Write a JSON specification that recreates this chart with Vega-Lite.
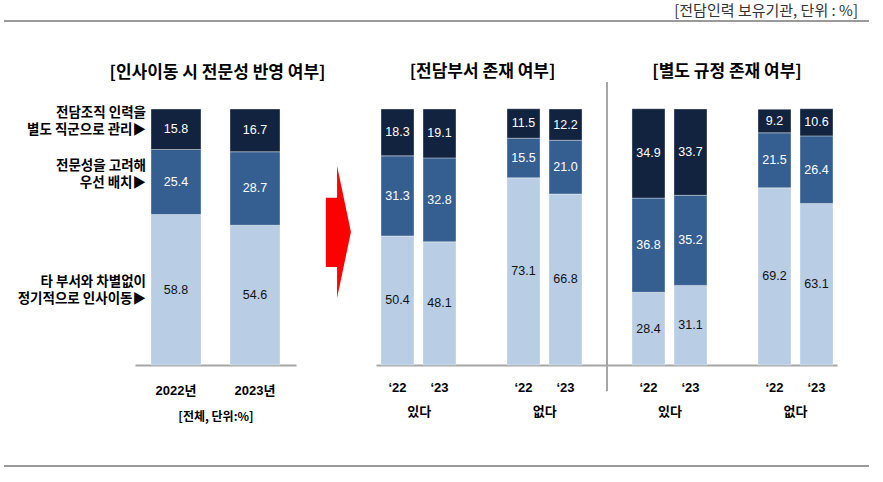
{
  "$schema": "https://vega.github.io/schema/vega-lite/v6.json",
  "padding": {"left": 3, "top": 0, "right": 5, "bottom": 5},
  "background": "#ffffff",
  "bounds": "flush",
  "spacing": 88,
  "resolve": {"scale": {"x": "independent", "y": "independent"}, "axis": {"x": "independent", "y": "independent"}},
  "config": {
    "view": {"stroke": null},
    "font": "Noto Sans CJK KR",
    "axis": {"grid": false},
    "title": {"font": "Noto Sans CJK KR", "fontWeight": "bold", "fontSize": 17, "color": "#000000"}
  },
  "datasets": {
    "bars": [
      {"panel": "A", "group": "", "year": "2022년", "cat": 1, "value": 58.8},
      {"panel": "A", "group": "", "year": "2022년", "cat": 2, "value": 25.4},
      {"panel": "A", "group": "", "year": "2022년", "cat": 3, "value": 15.8},
      {"panel": "A", "group": "", "year": "2023년", "cat": 1, "value": 54.6},
      {"panel": "A", "group": "", "year": "2023년", "cat": 2, "value": 28.7},
      {"panel": "A", "group": "", "year": "2023년", "cat": 3, "value": 16.7},
      {"panel": "B", "group": "있다", "year": "‘22", "cat": 1, "value": 50.4},
      {"panel": "B", "group": "있다", "year": "‘22", "cat": 2, "value": 31.3},
      {"panel": "B", "group": "있다", "year": "‘22", "cat": 3, "value": 18.3},
      {"panel": "B", "group": "있다", "year": "‘23", "cat": 1, "value": 48.1},
      {"panel": "B", "group": "있다", "year": "‘23", "cat": 2, "value": 32.8},
      {"panel": "B", "group": "있다", "year": "‘23", "cat": 3, "value": 19.1},
      {"panel": "B", "group": "없다", "year": "‘22", "cat": 1, "value": 73.1},
      {"panel": "B", "group": "없다", "year": "‘22", "cat": 2, "value": 15.5},
      {"panel": "B", "group": "없다", "year": "‘22", "cat": 3, "value": 11.5},
      {"panel": "B", "group": "없다", "year": "‘23", "cat": 1, "value": 66.8},
      {"panel": "B", "group": "없다", "year": "‘23", "cat": 2, "value": 21.0},
      {"panel": "B", "group": "없다", "year": "‘23", "cat": 3, "value": 12.2},
      {"panel": "C", "group": "있다", "year": "‘22", "cat": 1, "value": 28.4},
      {"panel": "C", "group": "있다", "year": "‘22", "cat": 2, "value": 36.8},
      {"panel": "C", "group": "있다", "year": "‘22", "cat": 3, "value": 34.9},
      {"panel": "C", "group": "있다", "year": "‘23", "cat": 1, "value": 31.1},
      {"panel": "C", "group": "있다", "year": "‘23", "cat": 2, "value": 35.2},
      {"panel": "C", "group": "있다", "year": "‘23", "cat": 3, "value": 33.7},
      {"panel": "C", "group": "없다", "year": "‘22", "cat": 1, "value": 69.2},
      {"panel": "C", "group": "없다", "year": "‘22", "cat": 2, "value": 21.5},
      {"panel": "C", "group": "없다", "year": "‘22", "cat": 3, "value": 9.2},
      {"panel": "C", "group": "없다", "year": "‘23", "cat": 1, "value": 63.1},
      {"panel": "C", "group": "없다", "year": "‘23", "cat": 2, "value": 26.4},
      {"panel": "C", "group": "없다", "year": "‘23", "cat": 3, "value": 10.6}
    ],
    "cats": [
      {"cat": 1, "label": "타 부서와 차별없이\u3000\n정기적으로 인사이동▶"},
      {"cat": 2, "label": "전문성을 고려해\u3000\n우선 배치▶"},
      {"cat": 3, "label": "전담조직 인력을\u3000\u3000\n별도 직군으로 관리▶"}
    ]
  },
  "vconcat": [
    {
      "width": 865,
      "height": 21,
      "data": {"values": [{"note": "[전담인력 보유기관, 단위 : %]"}]},
      "layer": [
        {
          "mark": {"type": "rect", "color": "#9A9A9A"},
          "encoding": {
            "x": {"datum": 0, "type": "quantitative", "scale": {"domain": [0, 1]}, "axis": null},
            "x2": {"datum": 1},
            "y": {"datum": 0.045, "type": "quantitative", "scale": {"domain": [0, 1]}, "axis": null},
            "y2": {"datum": -0.05}
          }
        },
        {
          "mark": {"type": "text", "align": "right", "baseline": "middle", "dx": -11, "fontSize": 15, "font": "Noto Sans CJK KR", "color": "#333333"},
          "encoding": {
            "x": {"datum": 1, "type": "quantitative"},
            "y": {"datum": 0.5, "type": "quantitative"},
            "text": {"field": "note"}
          }
        }
      ]
    },
    {
      "bounds": "flush",
      "spacing": 0,
      "hconcat": [
        {
          "width": 131,
          "height": 256,
          "data": {"name": "bars"},
          "transform": [
            {"filter": "datum.panel == 'A'"},
            {"stack": "value", "groupby": ["year"], "sort": [{"field": "cat", "order": "ascending"}], "as": ["y0", "y1"]},
            {"filter": "datum.year == '2022년'"},
            {"calculate": "(datum.y0 + datum.y1) / 2", "as": "mid"},
            {"lookup": "cat", "from": {"data": {"name": "cats"}, "key": "cat", "fields": ["label"]}}
          ],
          "layer": [
            {
              "transform": [{"filter": "datum.cat > 1"}],
              "mark": {"type": "text", "align": "right", "baseline": "middle", "dx": 11, "dy": -16, "lineBreak": "\n", "lineHeight": 17, "fontWeight": "bold", "fontSize": 13.5, "font": "Noto Sans CJK KR", "color": "#000000"},
              "encoding": {
                "x": {"datum": 1, "type": "quantitative", "scale": {"domain": [0, 1]}, "axis": null},
                "y": {"field": "mid", "type": "quantitative", "scale": {"domain": [0, 100]}, "axis": null},
                "text": {"field": "label"}
              }
            },
            {
              "transform": [{"filter": "datum.cat == 1"}],
              "mark": {"type": "text", "align": "right", "baseline": "middle", "dx": 11, "dy": -8, "lineBreak": "\n", "lineHeight": 17, "fontWeight": "bold", "fontSize": 13.5, "font": "Noto Sans CJK KR", "color": "#000000"},
              "encoding": {
                "x": {"datum": 1, "type": "quantitative", "scale": {"domain": [0, 1]}, "axis": null},
                "y": {"field": "mid", "type": "quantitative", "scale": {"domain": [0, 100]}, "axis": null},
                "text": {"field": "label"}
              }
            }
          ]
        },
        {
          "width": 161,
          "height": 256,
          "title": {"text": "[인사이동 시 전문성 반영 여부]", "offset": 27, "dx": 2},
          "data": {"name": "bars"},
          "transform": [
            {"filter": "datum.panel == 'A'"},
            {"stack": "value", "groupby": ["year"], "sort": [{"field": "cat", "order": "ascending"}], "as": ["y0", "y1"]},
            {"calculate": "(datum.y0 + datum.y1) / 2", "as": "mid"}
          ],
          "layer": [
            {
              "mark": {"type": "bar", "stroke": "#ffffff", "strokeOpacity": 0.35, "strokeWidth": 1},
              "encoding": {
                "x": {"field": "year", "type": "nominal", "scale": {"domain": ["2022년", "2023년"], "paddingInner": 0.367, "paddingOuter": 0.2025},
                      "axis": {"title": "[전체, 단위:%]", "titleFontSize": 12, "titleFontWeight": "bold", "titleFont": "Noto Sans CJK KR", "titleColor": "#000000", "titlePadding": 14,
                               "labelAngle": 0, "labelFontSize": 13, "labelFontWeight": "bold", "labelFont": "Liberation Sans, Noto Sans CJK KR", "labelColor": "#000000", "labelPadding": 19,
                               "ticks": false, "tickSize": 0, "domainColor": "#A6A6A6", "domainWidth": 2}},
                "y": {"field": "y1", "type": "quantitative", "scale": {"domain": [0, 100]}, "axis": null},
                "y2": {"field": "y0"},
                "color": {"field": "cat", "type": "nominal", "scale": {"domain": [1, 2, 3], "range": ["#B9CDE5", "#365F91", "#12233F"]}, "legend": null}
              }
            },
            {
              "mark": {"type": "text", "font": "Liberation Sans", "fontSize": 12.5, "baseline": "middle", "align": "center"},
              "encoding": {
                "x": {"field": "year", "type": "nominal"},
                "y": {"field": "mid", "type": "quantitative"},
                "text": {"field": "value", "type": "quantitative", "format": ".1f"},
                "color": {"condition": {"test": "datum.cat == 1", "value": "#111111"}, "value": "#ffffff"}
              }
            }
          ]
        },
        {
          "width": 80,
          "height": 256,
          "data": {"values": [{"arrow": "→"}]},
          "mark": {"type": "point", "shape": "M-0.19,-0.52L-0.02,-0.52L-0.02,-1L0.19,0L-0.02,1L-0.02,0.53L-0.19,0.53Z", "filled": true, "color": "#FF0000", "opacity": 1, "size": 17424, "strokeWidth": 0},
          "encoding": {
            "x": {"datum": 0.53, "type": "quantitative", "scale": {"domain": [0, 1]}, "axis": null},
            "y": {"datum": 51.95, "type": "quantitative", "scale": {"domain": [0, 100]}, "axis": null}
          }
        },
        {
          "width": 231,
          "height": 256,
          "title": {"text": "[전담부서 존재 여부]", "offset": 27, "dx": -9},
          "data": {"name": "bars"},
          "transform": [
            {"filter": "datum.panel == 'B'"},
            {"calculate": "datum.group + '|' + datum.year", "as": "slot"},
            {"stack": "value", "groupby": ["slot"], "sort": [{"field": "cat", "order": "ascending"}], "as": ["y0", "y1"]},
            {"calculate": "(datum.y0 + datum.y1) / 2", "as": "mid"}
          ],
          "resolve": {"scale": {"x": "independent"}, "axis": {"x": "independent"}},
          "layer": [
            {
              "layer": [
                {
                  "mark": {"type": "bar", "stroke": "#ffffff", "strokeOpacity": 0.35, "strokeWidth": 1},
                  "encoding": {
                    "x": {"field": "slot", "type": "nominal", "scale": {"domain": ["있다|‘22", "있다|‘23", "gap", "없다|‘22", "없다|‘23"], "paddingInner": 0.2143, "paddingOuter": 0.357, "align": 0.167},
                          "axis": {"title": null, "labelExpr": "indexof(datum.value, '|') >= 0 ? split(datum.value, '|')[1] : ''",
                                   "labelAngle": 0, "labelFontSize": 13, "labelFontWeight": "bold", "labelFont": "Liberation Sans, Noto Sans CJK KR", "labelColor": "#000000", "labelPadding": 16,
                                   "ticks": false, "tickSize": 0, "domainColor": "#A6A6A6", "domainWidth": 2}},
                    "y": {"field": "y1", "type": "quantitative", "scale": {"domain": [0, 100]}, "axis": null},
                    "y2": {"field": "y0"},
                    "color": {"field": "cat", "type": "nominal", "scale": {"domain": [1, 2, 3], "range": ["#B9CDE5", "#365F91", "#12233F"]}, "legend": null}
                  }
                },
                {
                  "mark": {"type": "text", "font": "Liberation Sans", "fontSize": 12.5, "baseline": "middle", "align": "center"},
                  "encoding": {
                    "x": {"field": "slot", "type": "nominal"},
                    "y": {"field": "mid", "type": "quantitative"},
                    "text": {"field": "value", "type": "quantitative", "format": ".1f"},
                    "color": {"condition": {"test": "datum.cat == 1", "value": "#111111"}, "value": "#ffffff"}
                  }
                }
              ]
            },
            {
              "mark": {"type": "point", "opacity": 0},
              "encoding": {
                "x": {"field": "group", "type": "nominal", "scale": {"type": "point", "domain": ["있다", "없다"], "padding": 0.42, "align": 0.405},
                      "axis": {"orient": "bottom", "title": null, "domain": false, "ticks": false, "tickSize": 0, "labelAngle": 0, "labelFontSize": 13, "labelFontWeight": "bold", "labelFont": "Noto Sans CJK KR", "labelColor": "#000000", "labelPadding": 40}}
              }
            }
          ]
        },
        {
          "width": 230,
          "height": 256,
          "title": {"text": "[별도 규정 존재 여부]", "offset": 0, "dx": 5},
          "data": {"name": "bars"},
          "transform": [
            {"filter": "datum.panel == 'C'"},
            {"calculate": "datum.group + '|' + datum.year", "as": "slot"},
            {"stack": "value", "groupby": ["slot"], "sort": [{"field": "cat", "order": "ascending"}], "as": ["y0", "y1"]},
            {"calculate": "(datum.y0 + datum.y1) / 2", "as": "mid"}
          ],
          "resolve": {"scale": {"x": "independent"}, "axis": {"x": "independent"}},
          "layer": [
            {
              "layer": [
                {
                  "mark": {"type": "bar", "stroke": "#ffffff", "strokeOpacity": 0.35, "strokeWidth": 1},
                  "encoding": {
                    "x": {"field": "slot", "type": "nominal", "scale": {"domain": ["있다|‘22", "있다|‘23", "gap", "없다|‘22", "없다|‘23"], "paddingInner": 0.2143, "paddingOuter": 0.345, "align": 0.862},
                          "axis": {"title": null, "labelExpr": "indexof(datum.value, '|') >= 0 ? split(datum.value, '|')[1] : ''",
                                   "labelAngle": 0, "labelFontSize": 13, "labelFontWeight": "bold", "labelFont": "Liberation Sans, Noto Sans CJK KR", "labelColor": "#000000", "labelPadding": 16,
                                   "ticks": false, "tickSize": 0, "domainColor": "#A6A6A6", "domainWidth": 2}},
                    "y": {"field": "y1", "type": "quantitative", "scale": {"domain": [0, 100]}, "axis": null},
                    "y2": {"field": "y0"},
                    "color": {"field": "cat", "type": "nominal", "scale": {"domain": [1, 2, 3], "range": ["#B9CDE5", "#365F91", "#12233F"]}, "legend": null}
                  }
                },
                {
                  "mark": {"type": "text", "font": "Liberation Sans", "fontSize": 12.5, "baseline": "middle", "align": "center"},
                  "encoding": {
                    "x": {"field": "slot", "type": "nominal"},
                    "y": {"field": "mid", "type": "quantitative"},
                    "text": {"field": "value", "type": "quantitative", "format": ".1f"},
                    "color": {"condition": {"test": "datum.cat == 1", "value": "#111111"}, "value": "#ffffff"}
                  }
                },
                {
                  "data": {"values": [{"sep": 1}]},
                  "mark": {"type": "rule", "color": "#A6A6A6", "strokeWidth": 2},
                  "encoding": {
                    "x": {"value": 0},
                    "y": {"datum": 110.5, "type": "quantitative"},
                    "y2": {"datum": -10.3}
                  }
                }
              ]
            },
            {
              "mark": {"type": "point", "opacity": 0},
              "encoding": {
                "x": {"field": "group", "type": "nominal", "scale": {"type": "point", "domain": ["있다", "없다"], "padding": 0.416, "align": 0.598},
                      "axis": {"orient": "bottom", "title": null, "domain": false, "ticks": false, "tickSize": 0, "labelAngle": 0, "labelFontSize": 13, "labelFontWeight": "bold", "labelFont": "Noto Sans CJK KR", "labelColor": "#000000", "labelPadding": 40}}
              }
            }
          ]
        }
      ]
    },
    {
      "width": 865,
      "height": 269,
      "data": {"values": [{"frame": "rules"}]},
      "layer": [
        {
          "mark": {"type": "rect", "color": "#9A9A9A"},
          "encoding": {
            "x": {"datum": 0, "type": "quantitative", "scale": {"domain": [0, 1]}, "axis": null},
            "x2": {"datum": 1},
            "y": {"datum": 1.6580, "type": "quantitative", "scale": {"domain": [0, 1]}, "axis": null},
            "y2": {"datum": 1.6506}
          }
        },
        {
          "mark": {"type": "rule", "color": "#9A9A9A", "strokeWidth": 2},
          "encoding": {
            "x": {"datum": 0, "type": "quantitative"},
            "x2": {"datum": 1},
            "y": {"datum": 0, "type": "quantitative"}
          }
        }
      ]
    }
  ]
}
